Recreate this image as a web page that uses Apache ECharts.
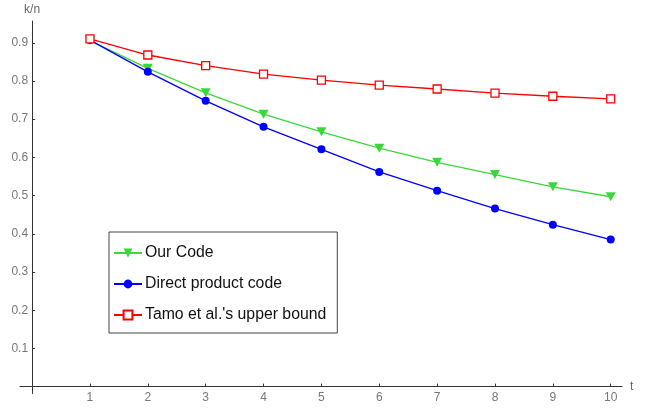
<!DOCTYPE html>
<html>
<head>
<meta charset="utf-8">
<script src="https://cdn.jsdelivr.net/npm/echarts@6/dist/echarts.min.js"></script>
<style>
html,body{margin:0;padding:0;background:#fff;}
#chart{width:645px;height:408px;}
</style>
</head>
<body>
<div id="chart"></div>
<script>
var tValues = [1, 2, 3, 4, 5, 6, 7, 8, 9, 10];
var ourCode = [0.906, 0.833, 0.769, 0.713, 0.667, 0.624, 0.587, 0.555, 0.523, 0.497];
var directProduct = [0.907, 0.824, 0.748, 0.680, 0.621, 0.562, 0.513, 0.466, 0.424, 0.385];
var tamoBound = [0.910, 0.868, 0.840, 0.818, 0.802, 0.789, 0.779, 0.768, 0.760, 0.753];
var xTicks = [1, 2, 3, 4, 5, 6, 7, 8, 9, 10];
var yTicks = [0.1, 0.2, 0.3, 0.4, 0.5, 0.6, 0.7, 0.8, 0.9];
var seriesNames = ['Our Code', 'Direct product code', "Tamo et al.'s upper bound"];

function pairs(xs, ys) { return xs.map(function (x, i) { return [x, ys[i]]; }); }

// axis ranges and grid box
var xMin = -0.209, xMax = 10.195, yMin = -0.018, yMax = 0.957;
var W = 645, H = 408;
var gLeft = 20, gRight = 23, gTop = 21, gBottom = 14.5;
var gW = W - gLeft - gRight, gH = H - gTop - gBottom;
// shift axes so they cross at (0, 0), like the original
var yAxisOffset = -((0 - xMin) / (xMax - xMin)) * gW;
var xAxisOffset = -((0 - yMin) / (yMax - yMin)) * gH;

var chart = echarts.init(document.getElementById('chart'));
var font = 'Liberation Sans, Arial, sans-serif';
chart.setOption({
  animation: false,
  backgroundColor: '#fff',
  textStyle: { fontFamily: font },
  grid: { left: gLeft, right: gRight, top: gTop, bottom: gBottom, containLabel: false, outerBoundsMode: 'none' },
  xAxis: {
    type: 'value', min: xMin, max: xMax, position: 'bottom', offset: xAxisOffset,
    name: 't', nameLocation: 'end', nameGap: 8,
    nameTextStyle: { color: '#666', fontSize: 12, fontFamily: font, verticalAlign: 'middle', padding: [0, 0, 3, 0] },
    axisLine: { show: true, onZero: false, lineStyle: { color: '#333', width: 1 } },
    axisTick: { show: true, inside: true, length: 3, customValues: xTicks, lineStyle: { color: '#333' } },
    axisLabel: { show: true, customValues: xTicks, color: '#777', fontSize: 12, fontFamily: font, margin: 5 },
    splitLine: { show: false }
  },
  yAxis: {
    type: 'value', min: yMin, max: yMax, position: 'left', offset: yAxisOffset,
    name: 'k/n', nameLocation: 'end', nameGap: 5,
    nameTextStyle: { color: '#666', fontSize: 12, fontFamily: font, align: 'center' },
    axisLine: { show: true, onZero: false, lineStyle: { color: '#333', width: 1 } },
    axisTick: { show: true, inside: true, length: 3, customValues: yTicks, lineStyle: { color: '#333' } },
    axisLabel: { show: true, customValues: yTicks, color: '#777', fontSize: 12, fontFamily: font, margin: 4,
      formatter: function (v) { return v.toFixed(1); } },
    splitLine: { show: false }
  },
  legend: {
    data: seriesNames,
    orient: 'vertical',
    left: 109, top: 232,
    backgroundColor: '#fff',
    borderColor: '#444', borderWidth: 1,
    padding: [13, 11, 10, 4],
    itemWidth: 28, itemHeight: 11, itemGap: 15,
    textStyle: { fontSize: 15.8, color: '#111', fontFamily: font, padding: [0, 0, 0, -2] }
  },
  series: [
    {
      name: seriesNames[0], type: 'line', data: pairs(tValues, ourCode),
      symbol: 'triangle', symbolRotate: 180, symbolSize: [10, 9],
      lineStyle: { color: '#3ad83a', width: 1.3 },
      itemStyle: { color: '#3ad83a' }
    },
    {
      name: seriesNames[1], type: 'line', data: pairs(tValues, directProduct),
      symbol: 'circle', symbolSize: 8,
      lineStyle: { color: '#0000ff', width: 1.3 },
      itemStyle: { color: '#0000ff' }
    },
    {
      name: seriesNames[2], type: 'line', data: pairs(tValues, tamoBound),
      symbol: 'rect', symbolSize: 8,
      lineStyle: { color: '#ff0000', width: 1.3 },
      itemStyle: { color: '#ffffff', borderColor: '#ff0000', borderWidth: 1.3 }
    }
  ]
});
</script>
</body>
</html>
